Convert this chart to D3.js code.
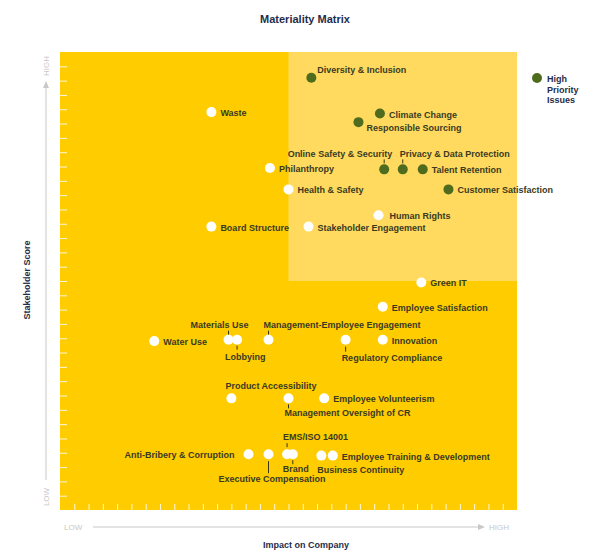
<!DOCTYPE html>
<html><head><meta charset="utf-8">
<script src="https://cdn.jsdelivr.net/npm/d3@7/dist/d3.min.js"></script>
<style>body{margin:0;background:#fff}text{font-family:"Liberation Sans",Arial,sans-serif}</style>
</head><body><svg id="c" width="610" height="554"></svg>
<script>
const names=["Diversity & Inclusion","Climate Change","Responsible Sourcing","Online Safety & Security","Privacy & Data Protection","Talent Retention","Customer Satisfaction","Waste","Philanthropy","Health & Safety","Human Rights","Stakeholder Engagement","Board Structure","Green IT","Employee Satisfaction","Water Use","Materials Use","Lobbying","Management-Employee Engagement","Regulatory Compliance","Innovation","Product Accessibility","Management Oversight of CR","Employee Volunteerism","Anti-Bribery & Corruption","Executive Compensation","EMS/ISO 14001","Brand","Business Continuity","Employee Training & Development"];
const impact=[17.6,22.4,20.9,22.7,24.0,25.4,27.2,10.6,14.7,16.0,22.3,17.4,10.6,25.3,22.6,6.6,11.8,12.4,14.6,20.0,22.6,12.0,16.0,18.5,13.2,14.6,15.9,16.3,18.3,19.1];
const stakeholder=[30.2,27.7,27.1,23.8,23.8,23.8,22.4,27.8,23.9,22.4,20.6,19.8,19.8,15.9,14.2,11.8,11.9,11.9,11.9,11.9,11.9,7.8,7.8,7.8,3.9,3.9,3.9,3.9,3.8,3.8];
const highPriority=[1,1,1,1,1,1,1,0,0,0,0,0,0,0,0,0,0,0,0,0,0,0,0,0,0,0,0,0,0,0];
const axisLabels={low:"LOW",high:"HIGH"};
// label layout: [dx, dy, anchor, leaderFromDy, leaderToDy]
const layout={
"Diversity & Inclusion":[6,-5,"start"],"Climate Change":[9,4,"start"],"Responsible Sourcing":[8,9,"start"],
"Online Safety & Security":[8,-12,"end",-6,-10],"Privacy & Data Protection":[-3,-12,"start",-6,-10],
"Materials Use":[20,-12,"end",-5,-9],"Lobbying":[-12,20,"start",6,10],"Management-Employee Engagement":[-5,-12,"start",-5,-9],
"Regulatory Compliance":[-4,21,"start",7,12],"Product Accessibility":[-6,-9,"start"],"Management Oversight of CR":[-4,18,"start",6,10],
"Anti-Bribery & Corruption":[-14,4,"end"],"Executive Compensation":[-50,28,"start",7,19],"EMS/ISO 14001":[-4,-14,"start",-11,-7],
"Brand":[-10,18,"start",6,10],"Business Continuity":[-4,17,"start"],"Human Rights":[11,4,"start"]};
const data=names.map((n,i)=>({n,x:impact[i],y:stakeholder[i],h:highPriority[i]}));
const svg=d3.select("#c");
const L=60,R=517,T=52,B=510;
const x=d3.scaleLinear().domain([0,32]).range([L,R]);
const y=d3.scaleLinear().domain([0,32]).range([B,T]);
svg.append("rect").attr("x",L).attr("y",T).attr("width",R-L).attr("height",B-T).attr("fill","#FFCC00");
svg.append("rect").attr("x",x(16)).attr("y",T).attr("width",R-x(16)).attr("height",y(16)-T).attr("fill","#FFDA5E");
const ax=svg.append("g").attr("transform",`translate(${L},0)`).call(d3.axisRight(y).tickValues(d3.range(1,32)).tickSize(7).tickFormat(""));
const bx=svg.append("g").attr("transform",`translate(0,${B})`).call(d3.axisTop(x).tickValues(d3.range(1,32)).tickSize(6).tickFormat(""));
[ax,bx].forEach(g=>{g.select(".domain").remove();g.selectAll("line").attr("stroke","#fff").attr("stroke-width",1).attr("opacity",0.85);});
svg.append("text").attr("x",305).attr("y",23).attr("text-anchor","middle").attr("font-size",11).attr("font-weight","bold").attr("fill","#1f2d4a").text("Materiality Matrix");
svg.append("text").attr("transform","translate(30,280) rotate(-90)").attr("text-anchor","middle").attr("font-size",9).attr("font-weight","bold").attr("fill","#1f2d4a").text("Stakeholder Score");
svg.append("text").attr("x",306).attr("y",548).attr("text-anchor","middle").attr("font-size",9).attr("font-weight","bold").attr("fill","#1f2d4a").text("Impact on Company");
const g="#c8c8c8";
svg.append("line").attr("x1",46).attr("x2",46).attr("y1",480).attr("y2",83).attr("stroke",g);
svg.append("path").attr("d","M43,88L46,81L49,88Z").attr("fill",g);
svg.append("text").attr("transform","translate(49,66) rotate(-90)").attr("text-anchor","middle").attr("font-size",8).attr("fill",g).text(axisLabels.high);
svg.append("text").attr("transform","translate(49,497) rotate(-90)").attr("text-anchor","middle").attr("font-size",8).attr("fill",g).text(axisLabels.low);
svg.append("line").attr("x1",93).attr("x2",483).attr("y1",527).attr("y2",527).attr("stroke",g);
svg.append("path").attr("d","M478,524L485,527L478,530Z").attr("fill",g);
svg.append("text").attr("x",64).attr("y",530).attr("font-size",8).attr("fill",g).text(axisLabels.low);
svg.append("text").attr("x",489).attr("y",530).attr("font-size",8).attr("fill",g).text(axisLabels.high);
const pts=svg.append("g");
data.forEach(d=>{
  const cx=x(d.x),cy=y(d.y);
  const lay=layout[d.n]||[9,4,"start"];
  if(lay.length>3) pts.append("line").attr("x1",cx).attr("x2",cx).attr("y1",cy+lay[3]).attr("y2",cy+lay[4]).attr("stroke","#3a3510").attr("stroke-width",1);
  pts.append("circle").attr("cx",cx).attr("cy",cy).attr("r",5).attr("fill",d.h?"#4E6B1E":"#fff");
  pts.append("text").attr("x",cx+lay[0]).attr("y",cy+lay[1]).attr("text-anchor",lay[2]).attr("font-size",9).attr("font-weight","bold").attr("fill","#3a3a22").text(d.n);
});
svg.append("circle").attr("cx",537).attr("cy",78).attr("r",5).attr("fill","#4E6B1E");
const lt=svg.append("text").attr("x",547).attr("y",82).attr("font-size",9).attr("font-weight","bold").attr("fill","#1f2d4a");
["High","Priority","Issues"].forEach((s,i)=>lt.append("tspan").attr("x",547).attr("dy",i?10.5:0).text(s));
</script></body></html>
